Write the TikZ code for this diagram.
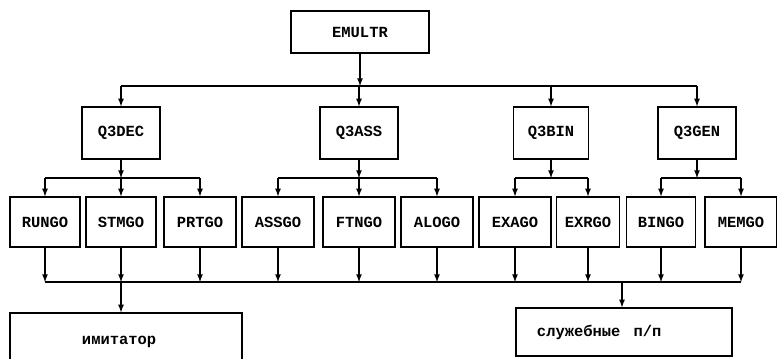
\documentclass[tikz,border=0pt]{standalone}
\usepackage{fontspec}
\newfontfamily\typefont{Liberation Mono}

\begin{document}
\begin{tikzpicture}[x=0.025cm, y=-0.025cm,
  box/.style={draw, line width=0.9pt, minimum width=1.8cm, minimum height=1.25cm,
              inner sep=2pt, font=\typefont\bfseries\fontsize{11}{13}\selectfont},
  modbox/.style={box, minimum width=1.95cm, minimum height=1.3cm},
  wide/.style={box, align=left},
  bus/.style={line width=0.9pt},
  arr/.style={->, line width=0.9pt, >=latex}
]
  \useasboundingbox (0,0) rectangle (777,358);

  \node[box, minimum width=3.45cm, minimum height=1.05cm] (emultr) at (360,32) {EMULTR};

  \node[modbox] (q3dec) at (121,133) {Q3DEC};
  \node[modbox] (q3ass) at (359,133) {Q3ASS};
  \node[modbox, minimum width=1.875cm] (q3bin) at (551,133) {Q3BIN};
  \node[modbox] (q3gen) at (697,133) {Q3GEN};

  \node[box, minimum width=1.75cm] (rungo) at (45,222)  {RUNGO};
  \node[box, minimum width=1.75cm] (stmgo) at (121,222) {STMGO};
  \node[box] (prtgo) at (200,222) {PRTGO};
  \node[box] (assgo) at (278,222) {ASSGO};
  \node[box] (ftngo) at (359,222) {FTNGO};
  \node[box] (alogo) at (437,222) {ALOGO};
  \node[box] (exago) at (515,222) {EXAGO};
  \node[box, minimum width=1.575cm] (exrgo) at (588,222) {EXRGO};
  \node[box, minimum width=1.725cm] (bingo) at (661,222) {BINGO};
  \node[box] (memgo) at (741,222) {MEMGO};

  \node[wide, minimum width=5.8cm, minimum height=1.45cm, inner xsep=1.8cm,
        text width=2.2cm] (imitator) at (126,342) {имитатор};
  \node[wide, minimum width=5.4cm, minimum height=1.2cm, inner xsep=0.525cm,
        text width=4.35cm] (sluzh) at (624,332) {служебные\hspace{0.85em}п/п};

  \coordinate (top) at (0,86);
  \coordinate (sub) at (0,178);
  \coordinate (bot) at (0,282);
  \coordinate (drop) at (622,282);

  % upper level
  \draw[arr] (emultr) -- (emultr |- top);
  \draw[bus] (q3dec |- top) -- (q3gen |- top);
  \foreach \n in {q3dec,q3ass,q3bin,q3gen}
    \draw[arr] (\n |- top) -- (\n);

  % second level
  \foreach \n in {q3dec,q3ass,q3bin,q3gen}
    \draw[arr] (\n) -- (\n |- sub);
  \draw[bus] (rungo |- sub) -- (prtgo |- sub);
  \draw[bus] (assgo |- sub) -- (alogo |- sub);
  \draw[bus] (exago |- sub) -- (exrgo |- sub);
  \draw[bus] (bingo |- sub) -- (memgo |- sub);
  \foreach \n in {rungo,stmgo,prtgo,assgo,ftngo,alogo,exago,exrgo,bingo,memgo}
    \draw[arr] (\n |- sub) -- (\n);

  % lower level
  \draw[bus] (rungo |- bot) -- (memgo |- bot);
  \foreach \n in {rungo,stmgo,prtgo,assgo,ftngo,alogo,exago,exrgo,bingo,memgo}
    \draw[arr] (\n) -- (\n |- bot);
  \draw[arr] (stmgo |- bot) -- (stmgo |- imitator.north);
  \draw[arr] (drop) -- (drop |- sluzh.north);
\end{tikzpicture}
\end{document}
